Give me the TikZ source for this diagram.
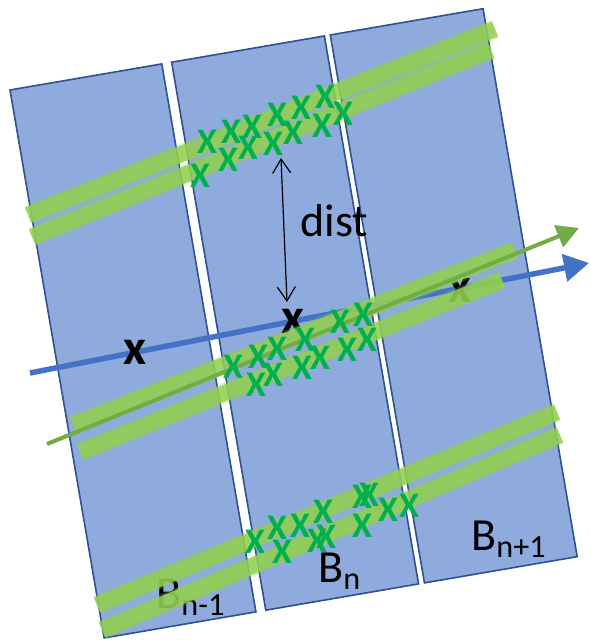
\documentclass[tikz,border=0pt]{standalone}
\usepackage{fontspec}
\setmainfont{Carlito}
\usetikzlibrary{arrows.meta}
\definecolor{stripfill}{RGB}{143,170,220}
\definecolor{stripline}{RGB}{47,82,143}
\definecolor{trackgreen}{RGB}{146,208,80}
\definecolor{hitgreen}{RGB}{0,176,80}
\definecolor{arrowgreen}{RGB}{112,173,71}
\definecolor{arrowblue}{RGB}{68,114,196}
\begin{document}
\begin{tikzpicture}[x=0.5pt,y=-0.5pt,
	strip/.style={fill=stripfill,draw=stripline,line width=0.8pt},
	track/.style={draw=trackgreen,line width=8pt,opacity=0.85},
	tracksoft/.style={draw=trackgreen,line width=10pt,opacity=0.25},
	hit/.style={text=hitgreen,inner sep=0pt,font=\fontsize{18}{20}\selectfont\bfseries},
	cross/.style={text=black,inner sep=0pt,font=\fontsize{25}{28}\selectfont\bfseries},
	lab/.style={inner sep=0pt,anchor=base west,font=\fontsize{23}{26}\selectfont}]
		\useasboundingbox (0,0) rectangle (590,640);
		%\draw[gray!50, thin, step=10] (0,0) grid (590,640);
		\begin{scope}[shift={(10,90)},rotate=9.75]
			\draw[strip] (0,0) rectangle (154,556);
			\draw[strip] (164,0) rectangle (319,556);
			\draw[strip] (325,0) rectangle (480,556);
		\end{scope}
		\node[lab] (bprev) at (156,608) {B\textsubscript{n-1}};
		\node[lab] (bcur) at (318,582) {B\textsubscript{n}};
		\node[lab] (bnext) at (471,550) {B\textsubscript{n+1}};
		
		\draw[arrowblue,line width=2.75pt,-{Triangle[length=12.5pt,width=13.5pt]}] (30,373) coordinate (s1) -- (589,263) coordinate (s2);
		\node[cross] (x1) at (135,352) {x};
		\node[cross] (x2) at (293,321) {x};
		\node[cross] (x3) at (460,290) {x};
		
		\foreach \u/\v/\s/\t in {28/215/495/29, 32/237/491/50, 73/425/515/250, 80/452/502/280, 97/605/557/412, 102/630/560/435}
		{
			\draw[tracksoft] (\u,\v) -- (\s,\t);
			\draw[track] (\u,\v) -- (\s,\t);
		}
		\draw[arrowgreen,line width=2pt,-{Triangle[length=11pt,width=11.5pt]}] (47,444) coordinate (t1) -- (579,228) coordinate (t2);
		
		% hits, top / middle / bottom
		\foreach \x/\y [count=\i] in {207/142,231/132,252/127,277/115,301/108,325/97,
			200/176,228/160,248/148,273/144,293/133,322/126,343/114,
			233/367,258/357,277/349,305/340,340/322,363/315,
			256/385,273/375,302/368,320/358,347/350,367/340,
			255/542,277/528,282/552,300/526,317/541,326/537,323/512,362/526,362/497,369/495,388/510,409/506}
			\node[hit] (h\i) at (\x,\y) {X};
		
		\coordinate (dtop) at (281,158);
		\coordinate (dbot) at (287,302);
		\draw[line width=0.6pt,{Straight Barb[length=7pt,width=9pt]}-{Straight Barb[length=7pt,width=9pt]}] (dtop) -- (dbot);
		\node[lab] (dist) at (300,237) {dist};
\end{tikzpicture}
\end{document}
